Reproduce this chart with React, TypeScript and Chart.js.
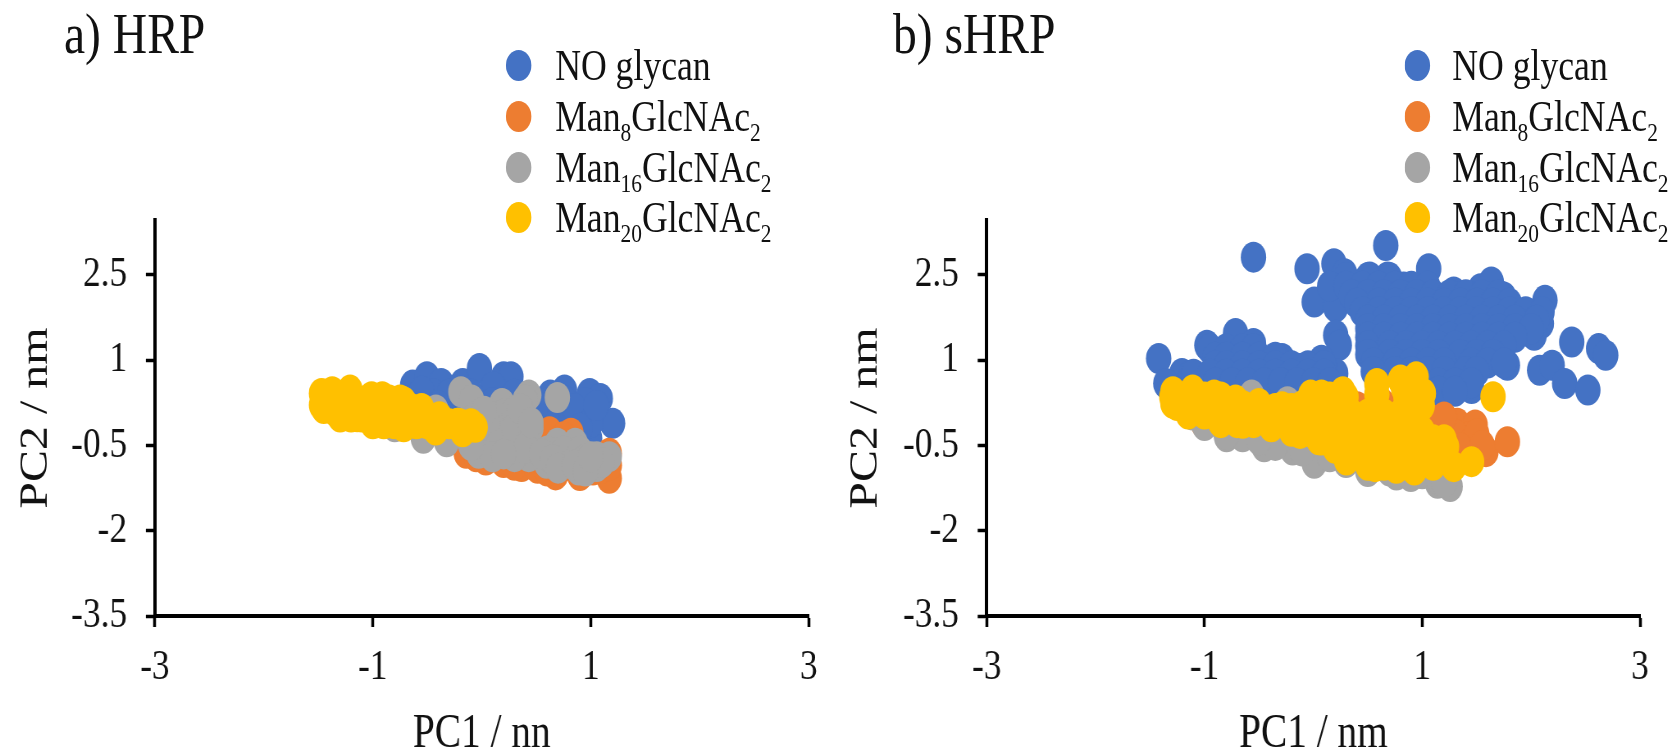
import React, { useEffect, useRef } from "react";
import { Chart, registerables } from "chart.js";

Chart.register(...registerables);

const xTickValues = [-3, -1, 1, 3];
const yTickValues = [-3.5, -2, -0.5, 1, 2.5];
const colors = ["#4472C4", "#ED7D31", "#A5A5A5", "#FFC000"];

const seriesNames: [string, string, string][] = [
  ["NO glycan", "", ""],
  ["Man", "8", "GlcNAc"],
  ["Man", "16", "GlcNAc"],
  ["Man", "20", "GlcNAc"],
];

type P = [number, number];

const hrpNoGlycan: P[] = [
  [-0.635, 0.56], [-0.504, 0.706], [-0.373, 0.589], [-0.176, 0.589], [-0.022, 0.852], [0.2, 0.706], [0.267, 0.706],
  [0.628, 0.384], [0.759, 0.472], [0.989, 0.413], [1.087, 0.326], [1.2, -0.113], [1.02, 0.121], [0.89, -0.054],
  [0.989, -0.376], [-0.225, 0.355], [-0.455, 0.413], [0.103, 0.53], [0.595, 0.063], [0.825, 0.063], [0.726, 0.18],
  [-0.6, 0.35], [0.1, 0.25], [0.4, 0.2], [-0.55, 0.45], [-0.3, 0.4], [-0.1, 0.4], [0.3, 0.4], [0.6, 0.25], [0.75, 0.3],
  [0.95, 0.25], [0.7, -0.1], [0.85, 0.15], [1.0, -0.1], [0.6, -0.1], [0.8, -0.3], [0.9, -0.2], [0.5, 0.2], [-0.4, 0.2],
  [-0.2, 0.1], [0.05, 0.1], [1.05, 0.2],
];
const hrpMan8: P[] = [
  [-0.143, -0.639], [0.621, -0.259], [0.818, -0.288], [1.169, -0.639], [1.169, -1.078], [0.365, -0.873],
  [0.513, -0.902], [0.677, -1.019], [0.037, -0.756], [0.89, -0.99], [1.02, -0.932], [-0.05, -0.7], [0.2, -0.8],
  [0.3, -0.85], [0.6, -0.95], [0.9, -1.03], [1.1, -0.9], [1.17, -0.85], [0.75, -0.35],
];
const hrpMan16: P[] = [
  [-0.192, 0.443], [-0.094, 0.296], [0.185, 0.238], [0.431, 0.384], [0.693, 0.343], [0.234, -0.054], [0.398, -0.054],
  [-0.028, -0.639], [0.136, -0.639], [0.267, -0.347], [0.431, -0.464], [0.693, -0.464], [0.857, -0.464], [1.054, -0.698],
  [1.169, -0.698], [0.89, -0.932], [1.054, -0.873], [0.595, -0.815], [0.431, -0.698], [-0.537, -0.376], [-0.323, -0.435],
  [-0.799, -0.171], [-0.996, -0.054], [-0.422, 0.121], [-0.127, -0.288], [0.103, -0.23], [0.398, 0.296], [-0.061, 0.004],
  [0.759, -0.756], [0.3, -0.698], [0.2, 0.05], [0.3, 0.1], [0.05, -0.1], [0.15, -0.5], [0.3, -0.2], [0.45, -0.2],
  [0.4, -0.55], [0.6, -0.6], [0.75, -0.6], [0.9, -0.6], [0.95, -0.75], [1.1, -0.8], [0.55, -0.65], [0.65, -0.75],
  [0.7, -0.9], [0.85, -0.85], [0.95, -0.95], [1.0, -0.7], [0.1, -0.7], [-0.1, -0.5], [-0.2, -0.1], [0.2, -0.65],
  [0.35, 0.15], [0.02, 0.1], [0.45, -0.1],
];
const hrpMan20: P[] = [
  [-1.471, 0.413], [-1.471, 0.209], [-1.373, 0.443], [-1.34, 0.092], [-1.209, 0.472], [-1.143, 0.004], [-1.012, 0.355],
  [-0.947, -0.054], [-0.914, 0.355], [-0.717, 0.267], [-0.717, -0.171], [-0.553, 0.15], [-0.422, -0.23], [-0.389, 0.004],
  [-0.225, -0.113], [-0.176, -0.259], [-0.061, -0.183], [-1.209, 0.238], [-0.881, 0.121], [-0.553, -0.054],
  [-1.45, 0.3], [-1.35, 0.3], [-1.25, 0.3], [-1.15, 0.3], [-1.05, 0.3], [-0.95, 0.3], [-0.85, 0.3], [-0.75, 0.3],
  [-1.45, 0.15], [-1.35, 0.15], [-1.25, 0.15], [-1.15, 0.15], [-1.05, 0.15], [-0.95, 0.15], [-0.85, 0.15], [-0.75, 0.15], [-0.65, 0.15],
  [-1.3, 0.0], [-1.2, 0.0], [-1.1, 0.0], [-1.0, 0.0], [-0.9, 0.0], [-0.8, 0.0], [-0.7, 0.0], [-0.6, 0.0], [-0.5, 0.0],
  [-1.0, -0.12], [-0.9, -0.12], [-0.8, -0.12], [-0.7, -0.12], [-0.6, -0.12], [-0.5, -0.12], [-0.4, -0.12], [-0.3, -0.12], [-0.2, -0.12], [-0.1, -0.12],
];

const shrpNoGlycan: P[] = [
  [-0.55, 2.81], [0.665, 3.015], [-0.058, 2.606], [0.189, 2.694], [0.287, 2.518], [0.517, 2.46], [0.681, 2.46],
  [1.059, 2.606], [0.829, 2.284], [1.289, 2.197], [1.535, 2.255], [1.634, 2.372], [1.749, 2.109], [2.127, 2.05],
  [0.008, 2.021], [0.205, 1.934], [1.946, 1.7], [2.094, 1.641], [2.028, 1.436], [2.373, 1.319], [2.62, 1.202],
  [2.685, 1.086], [2.078, 0.822], [2.193, 0.91], [2.308, 0.588], [2.521, 0.472], [1.782, 0.91], [1.453, 0.501],
  [1.289, 0.501], [1.125, 0.296], [0.205, 1.436], [0.238, 1.261], [-0.978, 1.261], [-0.715, 1.466], [-0.55, 1.29],
  [-0.288, 1.027], [-0.123, 0.852], [0.074, 0.998], [0.205, 0.764], [-1.421, 1.027], [-1.207, 0.764], [-1.125, 0.735],
  [-1.355, 0.588], [-0.879, 0.822], [-0.649, 0.939], [-0.419, 0.764],
  [0.3, 2.45], [0.5, 2.45], [0.7, 2.45],
  [0.15, 2.3], [0.3, 2.3], [0.45, 2.3], [0.6, 2.3], [0.75, 2.3], [0.9, 2.3], [1.05, 2.3],
  [0.35, 2.15], [0.5, 2.15], [0.65, 2.15], [0.8, 2.15], [0.95, 2.15], [1.1, 2.15], [1.25, 2.15], [1.4, 2.15], [1.55, 2.15], [1.7, 2.15],
  [0.4, 2.0], [0.6, 2.0], [0.75, 2.0], [0.9, 2.0], [1.05, 2.0], [1.2, 2.0], [1.35, 2.0], [1.5, 2.0], [1.65, 2.0], [1.8, 2.0],
  [0.45, 1.85], [0.6, 1.85], [0.75, 1.85], [0.9, 1.85], [1.05, 1.85], [1.2, 1.85], [1.35, 1.85], [1.5, 1.85], [1.65, 1.85], [1.8, 1.85], [1.95, 1.85], [2.1, 1.85],
  [0.5, 1.7], [0.65, 1.7], [0.8, 1.7], [0.95, 1.7], [1.1, 1.7], [1.25, 1.7], [1.4, 1.7], [1.55, 1.7], [1.7, 1.7], [1.85, 1.7], [2.05, 1.7],
  [0.5, 1.55], [0.65, 1.55], [0.8, 1.55], [0.95, 1.55], [1.1, 1.55], [1.25, 1.55], [1.4, 1.55], [1.55, 1.55], [1.7, 1.55], [1.85, 1.55], [2.0, 1.55],
  [0.5, 1.4], [0.65, 1.4], [0.8, 1.4], [0.95, 1.4], [1.1, 1.4], [1.25, 1.4], [1.4, 1.4], [1.55, 1.4], [1.7, 1.4], [1.85, 1.4],
  [0.5, 1.25], [0.7, 1.25], [0.85, 1.25], [1.0, 1.25], [1.15, 1.25], [1.3, 1.25], [1.45, 1.25], [1.6, 1.25], [1.75, 1.25],
  [0.5, 1.1], [0.7, 1.1], [0.85, 1.1], [1.0, 1.1], [1.15, 1.1], [1.35, 1.1], [1.5, 1.1], [1.65, 1.1],
  [0.55, 0.95], [0.75, 0.95], [0.9, 0.95], [1.05, 0.95], [1.2, 0.95], [1.45, 0.95], [1.6, 0.95], [1.75, 0.95],
  [0.55, 0.8], [0.75, 0.8], [0.9, 0.8], [1.05, 0.8], [1.2, 0.8], [1.4, 0.8], [1.5, 0.8],
  [1.0, 0.6], [1.15, 0.6], [1.3, 0.6], [1.45, 0.6], [1.15, 0.45], [1.3, 0.45],
  [-0.95, 1.2], [-0.8, 1.2], [-0.65, 1.2], [-0.55, 1.2],
  [-0.9, 1.05], [-0.8, 1.05], [-0.65, 1.05], [-0.5, 1.05], [-0.35, 1.05],
  [-0.9, 0.9], [-0.8, 0.9], [-0.65, 0.9], [-0.5, 0.9], [-0.35, 0.9], [-0.2, 0.9], [-0.05, 0.9], [0.1, 0.9],
  [-1.1, 0.75], [-0.95, 0.75], [-0.8, 0.75], [-0.65, 0.75], [-0.5, 0.75], [-0.35, 0.75], [-0.2, 0.75], [-0.05, 0.75], [0.1, 0.75],
  [-0.9, 0.6], [-0.75, 0.6], [-0.6, 0.6], [-0.45, 0.6], [-0.3, 0.6], [-0.15, 0.6], [0.0, 0.6], [0.15, 0.6],
];
const shrpMan8: P[] = [
  [1.092, -0.055], [1.322, -0.113], [1.486, -0.143], [1.585, -0.61], [1.782, -0.435], [1.421, -0.347], [0.402, 0.179],
  [0.632, 0.238], [-1.01, -0.113], [-1.142, 0.062], [1.256, -0.523], [1.2, -0.2], [1.3, -0.3], [1.45, -0.45], [1.5, -0.3],
  [1.35, -0.55], [1.55, -0.5], [1.2, 0.0],
];
const shrpMan16: P[] = [
  [-0.797, -0.347], [-0.452, -0.523], [-0.19, -0.581], [0.008, -0.815], [0.5, -0.961], [0.763, -1.02], [0.895, -1.049],
  [1.256, -1.224], [1.141, -1.166], [-0.567, 0.384], [-0.238, 0.267], [-1.109, 0.033], [0.337, -0.64], [0.928, -0.756],
  [-0.813, -0.055], [-1.0, -0.15], [-0.65, -0.35], [-0.35, -0.5], [-0.1, -0.6], [0.15, -0.7], [0.3, -0.8], [0.5, -0.9],
  [0.7, -0.95], [1.0, -1.0], [1.15, -1.1], [-0.5, -0.4], [1.2, -1.15], [-0.8, -0.3],
];
const shrpMan20: P[] = [
  [-1.29, 0.442], [-1.109, 0.472], [-0.912, 0.384], [-0.715, 0.296], [-0.501, 0.238], [-0.288, 0.179], [-0.025, 0.384],
  [0.074, 0.384], [0.271, 0.442], [0.583, 0.588], [0.944, 0.705], [1.01, 0.413], [0.829, 0.501], [-1.29, 0.238],
  [-0.879, 0.004], [-0.649, -0.113], [-0.386, -0.172], [-0.123, -0.289], [0.074, -0.406], [0.304, -0.757], [0.566, -0.874],
  [0.763, -0.903], [0.928, -0.932], [1.125, -0.64], [1.223, -0.523], [1.289, -0.874], [1.453, -0.786], [1.65, 0.355],
  [0.583, 0.4], [0.85, 0.35], [0.95, 0.35], [0.8, 0.65], [0.9, 0.5],
  [-1.3, 0.35], [-1.15, 0.35], [-1.0, 0.35], [-0.85, 0.35], [0.0, 0.35], [0.15, 0.35], [0.3, 0.35],
  [-1.25, 0.2], [-1.1, 0.2], [-0.95, 0.2], [-0.8, 0.2], [-0.65, 0.2], [-0.5, 0.2], [-0.35, 0.15], [-0.2, 0.15], [-0.1, 0.2], [0.05, 0.2], [0.2, 0.2], [0.3, 0.15], [0.58, 0.15], [0.85, 0.2], [1.0, 0.2],
  [-1.15, 0.05], [-1.0, 0.05], [-0.85, 0.05], [-0.7, 0.05], [-0.55, 0.05], [-0.4, 0.05], [-0.25, 0.05], [-0.1, 0.05], [0.05, 0.05], [0.2, 0.05], [0.35, 0.05], [0.5, 0.05], [0.65, 0.05], [0.8, 0.05], [0.95, 0.05],
  [-0.85, -0.1], [-0.7, -0.1], [-0.55, -0.1], [-0.4, -0.1], [-0.25, -0.1], [-0.1, -0.1], [0.05, -0.1], [0.2, -0.1], [0.35, -0.1], [0.5, -0.1], [0.65, -0.1], [0.8, -0.1], [0.95, -0.1],
  [-0.2, -0.25], [-0.05, -0.25], [0.1, -0.25], [0.25, -0.25], [0.4, -0.25], [0.55, -0.25], [0.7, -0.25], [0.85, -0.25], [1.0, -0.25],
  [0.05, -0.4], [0.2, -0.4], [0.35, -0.4], [0.5, -0.4], [0.65, -0.4], [0.8, -0.4], [0.95, -0.4], [1.1, -0.4], [1.2, -0.4],
  [0.2, -0.55], [0.35, -0.55], [0.5, -0.55], [0.65, -0.55], [0.8, -0.55], [0.95, -0.55], [1.1, -0.55], [1.2, -0.55],
  [0.3, -0.7], [0.45, -0.7], [0.6, -0.7], [0.75, -0.7], [0.9, -0.7], [1.05, -0.7], [1.2, -0.7],
  [0.5, -0.85], [0.65, -0.85], [0.8, -0.85], [0.95, -0.85], [1.1, -0.85],
];

const SQUEEZE = 0.82;
const FONT = "'Liberation Serif', serif";
const Y_MAX = 3.463;

function buildChart(canvas: HTMLCanvasElement, series: P[][], xTitle: string, yAxisLeft: number, paddingRight: number) {
  return new Chart(canvas, {
    type: "scatter",
    data: {
      datasets: series.map((pts, i) => ({
        label: seriesNames[i].join(""),
        data: pts.map(([x, y]) => ({ x, y })),
        backgroundColor: colors[i],
        borderColor: colors[i],
        borderWidth: 0,
        pointRadius: 15.5,
        order: series.length - i,
      })),
    },
    options: {
      animation: false,
      responsive: false,
      devicePixelRatio: 1,
      layout: { padding: { top: 220, right: paddingRight, left: 0, bottom: 0 } },
      plugins: { legend: { display: false }, tooltip: { enabled: false } },
      scales: {
        x: {
          type: "linear",
          min: -3,
          max: 3,
          afterBuildTicks: (s: any) => { s.ticks = xTickValues.map((value) => ({ value })); },
          afterFit: (s: any) => { s.height = 174; },
          border: { display: true, color: "#000", width: 4 },
          grid: { drawOnChartArea: false, drawTicks: true, tickLength: 11, tickColor: "#000", tickWidth: 3.5 },
          ticks: { color: "#111", font: { family: FONT, size: 43 }, padding: 15, maxRotation: 0, autoSkip: false, callback: (v: any) => String(v) },
          title: { display: true, text: xTitle, color: "#111", font: { family: FONT, size: 48, lineHeight: 1 }, padding: { top: 0, bottom: 31.5 } },
        },
        y: {
          type: "linear",
          min: -3.5,
          max: Y_MAX,
          afterBuildTicks: (s: any) => { s.ticks = yTickValues.map((value) => ({ value })); },
          afterFit: (s: any) => { s.width = yAxisLeft; },
          border: { display: true, color: "#000", width: 4 },
          grid: { drawOnChartArea: false, drawTicks: true, tickLength: 11, tickColor: "#000", tickWidth: 3.5 },
          ticks: { color: "#111", font: { family: FONT, size: 43 }, padding: 23, autoSkip: false, callback: (v: any) => String(v) },
          title: { display: true, text: "PC2 / nm", color: "#111", font: { family: FONT, size: 48, lineHeight: 1 }, padding: { top: 20, bottom: 0 } },
        },
      },
    } as any,
  });
}

function Legend({ markerLeft, textLeft }: { markerLeft: number; textLeft: number }) {
  const rows = [65, 116, 167, 217];
  return (
    <>
      {seriesNames.map(([a, sub, b], i) => (
        <React.Fragment key={i}>
          <div style={{ position: "absolute", left: markerLeft - 15.5, top: rows[i] - 15.5, width: 31, height: 31, borderRadius: "50%", background: colors[i] }} />
          <div style={{ position: "absolute", left: textLeft, top: rows[i] - 23, font: `43.5px/46px ${FONT}`, color: "#111", whiteSpace: "nowrap" }}>
            {a}
            {sub && <sub style={{ fontSize: "0.6em", lineHeight: 0 }}>{sub}</sub>}
            {b}
            {sub && <sub style={{ fontSize: "0.6em", lineHeight: 0 }}>2</sub>}
          </div>
        </React.Fragment>
      ))}
    </>
  );
}

export default function App() {
  const aRef = useRef<HTMLCanvasElement>(null);
  const bRef = useRef<HTMLCanvasElement>(null);
  useEffect(() => {
    const a = buildChart(aRef.current!, [hrpNoGlycan, hrpMan8, hrpMan16, hrpMan20], "PC1 / nn", 188.9, 23.5);
    const b = buildChart(bRef.current!, [shrpNoGlycan, shrpMan8, shrpMan16, shrpMan20], "PC1 / nm", 191.3, 42);
    return () => { a.destroy(); b.destroy(); };
  }, []);
  const titleStyle: React.CSSProperties = { position: "absolute", top: 5, font: `58px/58px ${FONT}`, color: "#111", whiteSpace: "nowrap" };
  return (
    <div style={{ position: "fixed", left: 0, top: 0, width: 1675, height: 751, overflow: "hidden", background: "#fff" }}>
      <div style={{ position: "absolute", left: 0, top: 0, width: 2043, height: 790, transform: `scaleX(${SQUEEZE})`, transformOrigin: "0 0", filter: "blur(0.6px)" }}>
        <canvas ref={aRef} width={1012} height={790} style={{ position: "absolute", left: 0, top: 0 }} />
        <canvas ref={bRef} width={1030} height={790} style={{ position: "absolute", left: 1012, top: 0 }} />
        <div style={{ ...titleStyle, left: 78 }}>a) HRP</div>
        <div style={{ ...titleStyle, left: 1089 }}>b) sHRP</div>
        <Legend markerLeft={632} textLeft={677} />
        <Legend markerLeft={1728} textLeft={1771} />
      </div>
    </div>
  );
}
